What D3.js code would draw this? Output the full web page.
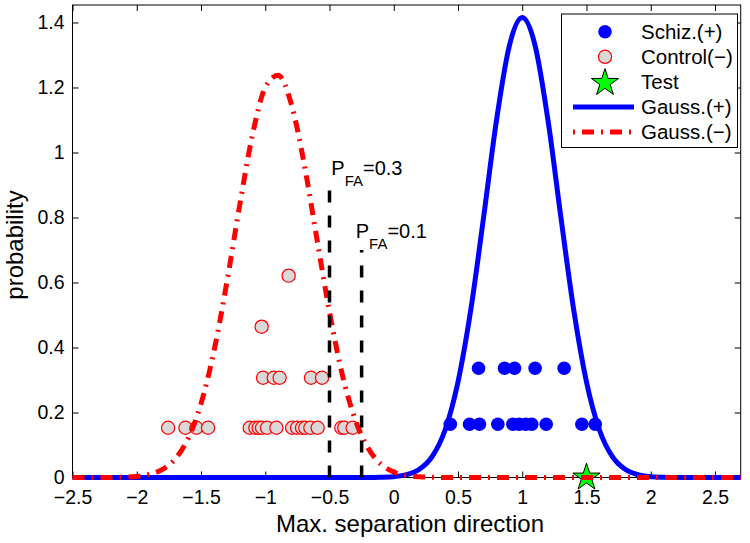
<!DOCTYPE html>
<html><head><meta charset="utf-8">
<script src="https://cdn.jsdelivr.net/npm/d3@7"></script>
<style>
body{margin:0;background:#fff}
svg{display:block}
text{font-family:"Liberation Sans",Arial,Helvetica,sans-serif;fill:#000}
</style>
</head><body>
<svg id="chart" width="750" height="543"></svg>
<script>
// ---------- data ----------
const schizX = [0.44, 0.59, 0.667, 0.81, 0.927, 0.976, 1.027, 1.074, 1.186, 1.464, 1.568,
                0.66, 0.862, 0.94, 1.10, 1.326];
const schizY = [0.164,0.164,0.164,0.164,0.164,0.164,0.164,0.164,0.164,0.164,0.164,
                0.336,0.336,0.336,0.336,0.336];
const controlX = [-1.756,-1.621,-1.536,-1.445,-1.121,-1.077,-1.051,-1.025,-0.986,-0.913,
                  -0.791,-0.752,-0.714,-0.688,-0.649,-0.592,-0.408,-0.385,-0.32,
                  -1.017,-0.934,-0.888,-0.644,-0.558,
                  -1.028,
                  -0.818];
const controlY = [0.153,0.153,0.153,0.153,0.153,0.153,0.153,0.153,0.153,0.153,
                  0.153,0.153,0.153,0.153,0.153,0.153,0.153,0.153,0.153,
                  0.307,0.307,0.307,0.307,0.307,
                  0.464,
                  0.621];
const testX = [1.5];
const testY = [0];
const gaussPosX = [-2.5,-0.2,-0.1,0.0,0.1,0.2,0.3,0.4,0.5,0.6,0.7,0.8,0.9,1.0,1.1,1.2,1.3,1.4,1.5,1.6,1.7,1.8,1.9,2.0,2.1,2.2,2.7];
const gaussPosY = [0,0,0.0007,0.0026,0.0087,0.0253,0.0649,0.147,0.294,0.517,0.803,1.100,1.329,1.415,1.329,1.100,0.803,0.517,0.294,0.147,0.0649,0.0253,0.0087,0.0026,0.0007,0,0];
const gaussNegX = [-2.5,-2.2,-2.1,-2.0,-1.9,-1.8,-1.7,-1.6,-1.5,-1.4,-1.3,-1.2,-1.1,-1.0,-0.9,-0.8,-0.7,-0.6,-0.5,-0.4,-0.3,-0.2,-0.1,0.0,0.1,0.2,0.3,0.4,2.7];
const gaussNegY = [0,0,0.0011,0.0034,0.0097,0.0248,0.0574,0.120,0.227,0.387,0.598,0.835,1.053,1.200,1.2375,1.153,0.971,0.739,0.509,0.316,0.178,0.0904,0.0415,0.0172,0.0065,0.0022,0.0006,0,0];
const thresholdX = [-0.5, -0.25];
const thresholdTop = [0.9, 0.7];
const thresholdLabel = ["0.3", "0.1"];
const xTicks = [-2.5,-2,-1.5,-1,-0.5,0,0.5,1,1.5,2,2.5];
const yTicks = [0,0.2,0.4,0.6,0.8,1,1.2,1.4];
const legendLabels = ["Schiz.(+)", "Control(\u2212)", "Test", "Gauss.(+)", "Gauss.(\u2212)"];

// ---------- layout ----------
const L = 72.5, R = 740.7, T = 5, B = 477.5;
const svg = d3.select("#chart");
const x = d3.scaleLinear().domain([-2.5, 2.7]).range([L, R]);
const y = d3.scaleLinear().domain([0, 1.4538]).range([B, T]);
const fmt = d => String(d).replace("-", "\u2212");
const dashDot = "12,7,2,7";

// axes
const gx = svg.append("g").attr("transform", `translate(0,${B})`)
  .call(d3.axisBottom(x).tickValues(xTicks).tickSizeInner(-6).tickSizeOuter(0).tickPadding(13).tickFormat(fmt));
const gy = svg.append("g").attr("transform", `translate(${L},0)`)
  .call(d3.axisLeft(y).tickValues(yTicks).tickSizeInner(-6).tickSizeOuter(0).tickPadding(8).tickFormat(fmt));
const gt = svg.append("g").attr("transform", `translate(0,${T})`)
  .call(d3.axisTop(x).tickValues(xTicks).tickSizeInner(-6).tickSizeOuter(0).tickFormat(""));
const gr = svg.append("g").attr("transform", `translate(${R},0)`)
  .call(d3.axisRight(y).tickValues(yTicks).tickSizeInner(-6).tickSizeOuter(0).tickFormat(""));
[gx, gy, gt, gr].forEach(g => {
  g.select(".domain").remove();
  g.selectAll(".tick line").attr("stroke", "#000").attr("stroke-width", 1);
  g.selectAll(".tick text").attr("font-size", 19.5).attr("font-family", '"Liberation Sans",Arial,sans-serif').attr("fill", "#000");
});
svg.append("rect").attr("x", L).attr("y", T).attr("width", R - L).attr("height", B - T)
  .attr("fill", "none").attr("stroke", "#000").attr("stroke-width", 1);

// axis labels
svg.append("text").attr("x", 410).attr("y", 532).attr("text-anchor", "middle")
  .attr("font-size", 24).text("Max. separation direction");
svg.append("text").attr("transform", "translate(23,245) rotate(-90)").attr("text-anchor", "middle")
  .attr("font-size", 24).text("probability");

// scatter points
const schiz = schizX.map((v, i) => [v, schizY[i]]);
const control = controlX.map((v, i) => [v, controlY[i]]);
svg.append("g").selectAll("circle").data(schiz).join("circle")
  .attr("cx", d => x(d[0])).attr("cy", d => y(d[1])).attr("r", 6.8).attr("fill", "#0000ff");
svg.append("g").selectAll("circle").data(control).join("circle")
  .attr("cx", d => x(d[0])).attr("cy", d => y(d[1])).attr("r", 6.6)
  .attr("fill", "#d9d9d9").attr("stroke", "#ff0000").attr("stroke-width", 1.2);

// test star
const star = d3.symbol(d3.symbolStar, 230);
svg.append("g").selectAll("path").data(testX.map((v, i) => [v, testY[i]])).join("path")
  .attr("d", star).attr("transform", d => `translate(${x(d[0])},${y(d[1])})`)
  .attr("fill", "#00ff00").attr("stroke", "#000").attr("stroke-width", 1);

// gaussian curves
const line = d3.line().x(d => x(d[0])).y(d => y(d[1])).curve(d3.curveMonotoneX);
svg.append("path").datum(gaussPosX.map((v, i) => [v, gaussPosY[i]]))
  .attr("d", line).attr("fill", "none").attr("stroke", "#0000ff").attr("stroke-width", 5)
  .attr("stroke-linejoin", "round");
svg.append("path").datum(gaussNegX.map((v, i) => [v, gaussNegY[i]]))
  .attr("d", line).attr("fill", "none").attr("stroke", "#ff0000").attr("stroke-width", 5)
  .attr("stroke-dasharray", dashDot).attr("stroke-linecap", "butt");

// thresholds
thresholdX.forEach((tx, i) => {
  svg.append("line").attr("x1", x(tx)).attr("x2", x(tx)).attr("y1", y(0)).attr("y2", y(thresholdTop[i]))
    .attr("stroke", "#000").attr("stroke-width", 3.5).attr("stroke-dasharray", "12,13");
});
const lblPos = [[-0.486, 0.931], [-0.296, 0.737]];
thresholdLabel.forEach((lab, i) => {
  const t = svg.append("text").attr("x", x(lblPos[i][0])).attr("y", y(lblPos[i][1])).attr("font-size", 20);
  t.append("tspan").text("P");
  t.append("tspan").attr("font-size", 15).attr("dy", 11.5).text("FA");
  t.append("tspan").attr("dy", -11.5).text("=" + lab);
});

// legend
const lg = svg.append("g");
lg.append("rect").attr("x", 561.5).attr("y", 14).attr("width", 176).attr("height", 133.5)
  .attr("fill", "#fff").attr("stroke", "#000").attr("stroke-width", 1);
const ly = i => 31.7 + i * 25.1;
lg.append("circle").attr("cx", 605).attr("cy", ly(0)).attr("r", 6.8).attr("fill", "#0000ff");
lg.append("circle").attr("cx", 605).attr("cy", ly(1)).attr("r", 6.6).attr("fill", "#d9d9d9")
  .attr("stroke", "#ff0000").attr("stroke-width", 1.2);
lg.append("path").attr("d", star).attr("transform", `translate(605,${ly(2) + 1})`)
  .attr("fill", "#00ff00").attr("stroke", "#000").attr("stroke-width", 1);
lg.append("line").attr("x1", 573).attr("x2", 634).attr("y1", ly(3)).attr("y2", ly(3))
  .attr("stroke", "#0000ff").attr("stroke-width", 5);
lg.append("line").attr("x1", 573).attr("x2", 634).attr("y1", ly(4)).attr("y2", ly(4))
  .attr("stroke", "#ff0000").attr("stroke-width", 5).attr("stroke-dasharray", dashDot)
  .attr("stroke-dashoffset", 19);
legendLabels.forEach((s, i) => {
  lg.append("text").attr("x", 641).attr("y", ly(i)).attr("dy", "0.35em").attr("font-size", 20.5).text(s);
});
</script>
</body></html>
